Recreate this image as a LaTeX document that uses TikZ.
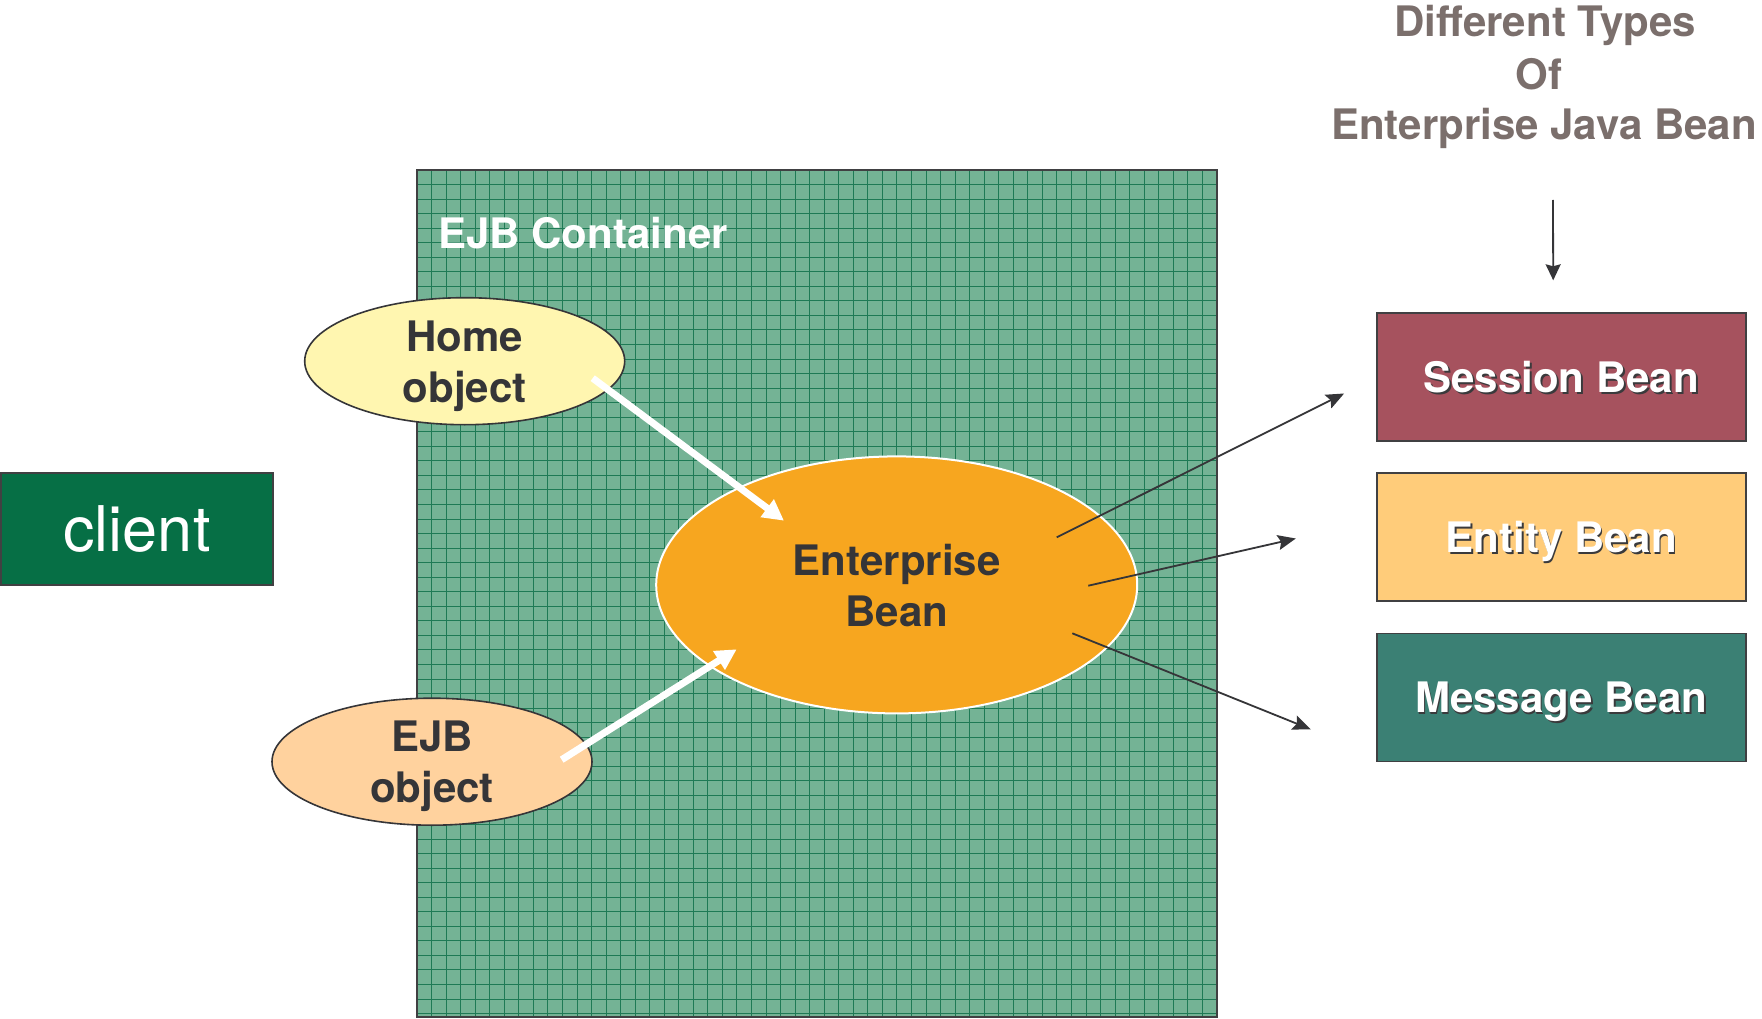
\documentclass[tikz,border=0pt]{standalone}
\usepackage{fontspec}
\setmainfont{TeX Gyre Heros}
\usetikzlibrary{shapes.geometric,arrows.meta,calc}

\definecolor{gridfill}{HTML}{74B395}
\definecolor{gridline}{HTML}{1E7A55}
\definecolor{edge}{HTML}{404042}
\definecolor{darkink}{HTML}{353538}
\definecolor{clientfill}{HTML}{066F45}
\definecolor{homefill}{HTML}{FFF6B0}
\definecolor{ejbfill}{HTML}{FFD29E}
\definecolor{beanfill}{HTML}{F7A61F}
\definecolor{sessionfill}{HTML}{A6525E}
\definecolor{entityfill}{HTML}{FFCC7A}
\definecolor{messagefill}{HTML}{3B8074}
\definecolor{titlegray}{HTML}{7B6F6C}
\definecolor{txtshadow}{HTML}{3A3A3C}

% white label with a small dark drop shadow
\newcommand\shadowed[1]{\leavevmode\rlap{\kern1.8pt\raisebox{-1.8pt}{\textcolor{txtshadow}{#1}}}#1}

\begin{document}
\begin{tikzpicture}[x=1pt,y=-1pt,
  bigbold/.style={font=\fontsize{42}{51}\selectfont\bfseries},
  gridstroke/.style={draw=gridline,line width=1pt},
  oval/.style={ellipse,inner sep=0pt,draw=darkink,line width=1.6pt,
    bigbold,text=darkink,align=center,text depth=0pt},
  beanbox/.style={rectangle,inner sep=0pt,draw=edge,line width=1.8pt,
    minimum width=369,minimum height=128,bigbold,text=white,
    text height=38pt,text depth=8pt},
  whitearrow/.style={draw=white,line width=7pt,
    -{Triangle[length=21pt,width=21pt]}},
  darkarrow/.style={draw=darkink,line width=1.8pt,
    -{Stealth[length=18pt,width=15pt,inset=3pt]}},
  titleline/.style={bigbold,text=titlegray,anchor=base,inner sep=0pt}]

\useasboundingbox (0,0) rectangle (1762,1019);
\fill[white] (0,0) rectangle (1762,1019);

% EJB container: green squared paper
\fill[gridfill] (417,170) rectangle (1217,1017);
\foreach \i in {1,...,54}
  \draw[gridstroke] ({417+\i*14.545},170) -- ({417+\i*14.545},1017);
\foreach \j in {1,...,58}
  \draw[gridstroke] (417,{170+\j*14.545}) -- (1217,{170+\j*14.545});
\draw[draw=edge,line width=2.5pt] (417,170) rectangle (1217,1017);
\node[bigbold,text=white,anchor=base west,inner sep=0pt] (ctitle) at (438,248) {EJB Container};

% client
\node[rectangle,inner sep=0pt,fill=clientfill,draw=edge,line width=1.6pt,
  minimum width=272,minimum height=112,text=white,
  font=\fontsize{63}{70}\selectfont] (client) at (137,528.9) {client};

% objects inside the container
\node[oval,fill=homefill,minimum width=320,minimum height=127] (home) at (464.7,361.2) {Home\\object};
\node[oval,fill=ejbfill,minimum width=320,minimum height=127] (ejb) at (432,761.7) {EJB\\object};
\node[oval,fill=beanfill,draw=white,line width=2pt,minimum width=481,minimum height=257] (eb) at (896.7,584.9) {Enterprise\\Bean};

\draw[whitearrow] ($(home.center)+(128,17)$) -- ($(eb.center)+(-112.7,-64.2)$);
\draw[whitearrow] ($(ejb.center)+(129.7,-2)$) -- ($(eb.center)+(-160,64.4)$);

% bean types
\node[titleline] (title1) at (1545,36.7) {Different Types};
\node[titleline] (title2) at (1539,89.3) {Of};
\node[titleline] (title3) at (1544,140) {Enterprise Java Bean};

\node[beanbox,fill=sessionfill] (session) at (1561.2,377.2) {\shadowed{Session Bean}};
\node[beanbox,fill=entityfill] (entity) at (1561.2,537.2) {\shadowed{Entity Bean}};
\node[beanbox,fill=messagefill] (message) at (1561.2,697.5) {\shadowed{Message Bean}};

\draw[darkarrow,-{Stealth[length=16pt,width=15pt,inset=2pt]}]
  ($(title3.base)+(9,60)$) -- ($(session.north)+(-8,-32)$);

\draw[darkarrow] ($(eb.center)+(160,-47.6)$) -- ($(session.west)+(-31.7,16.3)$);
\draw[darkarrow] ($(eb.center)+(191.6,0.8)$) -- ($(entity.west)+(-80,1.3)$);
\draw[darkarrow] ($(eb.center)+(175.6,48.4)$) -- ($(message.west)+(-65,31.8)$);
\end{tikzpicture}
\end{document}
